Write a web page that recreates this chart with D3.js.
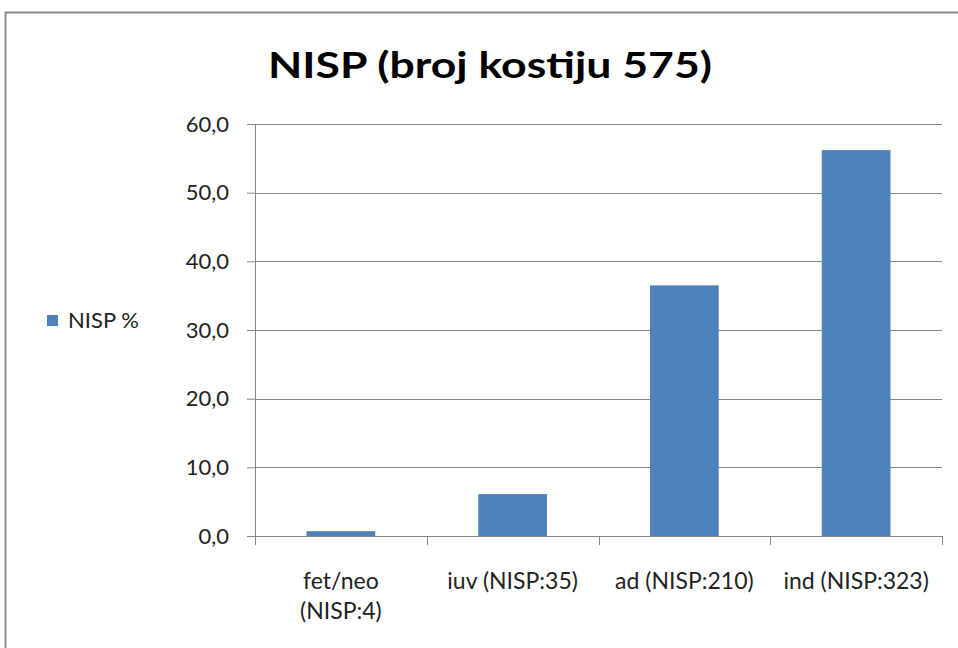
<!DOCTYPE html>
<html>
<head>
<meta charset="utf-8">
<script src="https://cdn.jsdelivr.net/npm/d3@7"></script>
<style>
  body { margin: 0; background: #fff; }
  text { font-family: Lato, "Open Sans", sans-serif; }
</style>
</head>
<body>
<script>
// chart data
var categories = [["fet/neo", "(NISP:4)"], ["iuv (NISP:35)"], ["ad (NISP:210)"], ["ind (NISP:323)"]];
var values = [0.7, 6.1, 36.5, 56.2];
var yTicks = [0, 10, 20, 30, 40, 50, 60];
var seriesName = "NISP %";
var title = "NISP (broj kostiju 575)";

var width = 958, height = 648;
var plotLeft = 255, plotRight = 942, plotTop = 124, plotBottom = 536;

var svg = d3.select("body").append("svg")
    .attr("width", width)
    .attr("height", height);

svg.append("rect").attr("width", width).attr("height", height).attr("fill", "#fff");

// outer chart border (only left and top visible)
svg.append("path")
    .attr("d", "M5.5," + height + "V12.5H" + width)
    .attr("fill", "none")
    .attr("stroke", "#8c8c8c")
    .attr("stroke-width", 2);

var x = d3.scaleBand()
    .domain(d3.range(categories.length))
    .range([plotLeft, plotRight])
    .paddingInner(0.6)
    .paddingOuter(0.3);

var y = d3.scaleLinear().domain([0, 60]).range([plotBottom, plotTop]);

// gridlines
svg.append("g").selectAll("line")
    .data(yTicks.slice(1))
    .enter().append("line")
    .attr("x1", plotLeft).attr("x2", plotRight)
    .attr("y1", function (d) { return Math.round(y(d)) + 0.5; })
    .attr("y2", function (d) { return Math.round(y(d)) + 0.5; })
    .attr("stroke", "#868686")
    .attr("stroke-width", 1);

// bars
svg.append("g").selectAll("rect")
    .data(values)
    .enter().append("rect")
    .attr("x", function (d, i) { return x(i); })
    .attr("width", x.bandwidth())
    .attr("y", function (d) { return y(d); })
    .attr("height", function (d) { return y(0) - y(d); })
    .attr("fill", "#4f81bd");

// y axis
var yAxis = svg.append("g")
    .attr("transform", "translate(" + plotLeft + ",0)")
    .call(d3.axisLeft(y).tickValues(yTicks).tickSize(8).tickPadding(18)
        .tickFormat(function (d) { return d3.format(".1f")(d).replace(".", ","); }));
yAxis.selectAll("line, path").attr("stroke", "#868686");
yAxis.select(".domain").attr("d", "M0.5," + plotTop + "V" + (plotBottom + 0.5));
yAxis.selectAll("text")
    .attr("font-size", 22)
    .attr("fill", "#222")
    .attr("font-family", "Lato, sans-serif");

// x axis
var step = x.step();
var catTicks = d3.range(categories.length + 1).map(function (i) { return plotLeft + i * step; });
svg.append("line")
    .attr("x1", plotLeft).attr("x2", plotRight)
    .attr("y1", plotBottom + 0.5).attr("y2", plotBottom + 0.5)
    .attr("stroke", "#868686");
svg.append("g").selectAll("line")
    .data(catTicks)
    .enter().append("line")
    .attr("x1", function (d) { return Math.round(d) + 0.5; })
    .attr("x2", function (d) { return Math.round(d) + 0.5; })
    .attr("y1", plotBottom).attr("y2", plotBottom + 9)
    .attr("stroke", "#868686");

var catLabels = svg.append("g").selectAll("text")
    .data(categories)
    .enter().append("text")
    .attr("text-anchor", "middle")
    .attr("font-size", 23)
    .attr("fill", "#222")
    .attr("x", function (d, i) { return x(i) + x.bandwidth() / 2; })
    .attr("y", 589);
catLabels.selectAll("tspan")
    .data(function (d) { return d; })
    .enter().append("tspan")
    .attr("x", function () { return d3.select(this.parentNode).attr("x"); })
    .attr("dy", function (d, i) { return i === 0 ? 0 : 30; })
    .text(function (d) { return d; });

// title
svg.append("text")
    .attr("x", 490)
    .attr("y", 78)
    .attr("text-anchor", "middle")
    .attr("font-size", 37)
    .attr("font-weight", "bold")
    .attr("fill", "#000")
    .attr("textLength", 444)
    .attr("lengthAdjust", "spacingAndGlyphs")
    .text(title);

// legend
svg.append("rect")
    .attr("x", 47).attr("y", 315)
    .attr("width", 11).attr("height", 11)
    .attr("fill", "#4f81bd");
svg.append("text")
    .attr("x", 68).attr("y", 328)
    .attr("font-size", 22)
    .attr("fill", "#222")
    .text(seriesName);
</script>
</body>
</html>
